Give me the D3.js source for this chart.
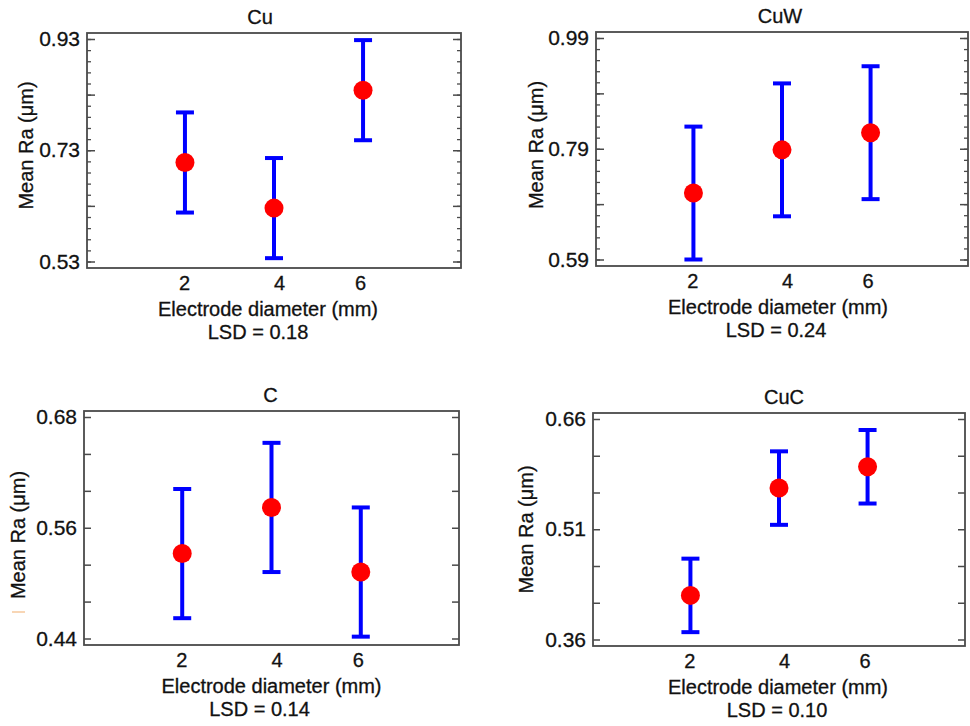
<!DOCTYPE html>
<html>
<head>
<meta charset="utf-8">
<script src="https://cdn.jsdelivr.net/npm/d3@7"></script>
<style>
  html, body { margin: 0; padding: 0; background: #fff; }
  svg text { font-family: "Liberation Sans", Arial, sans-serif; fill: #111; stroke: #111; stroke-width: 0.3px; }
</style>
</head>
<body>
<svg id="chart" width="970" height="726"></svg>
<script>
// Electrode diameter levels (mm)
const diameters = [2, 4, 6];

// Mean Ra (µm) per electrode material, with the LSD interval width
const cuMeans  = [0.708, 0.626, 0.838];
const cuwMeans = [0.710, 0.788, 0.819];
const cMeans   = [0.532, 0.582, 0.512];
const cucMeans = [0.420, 0.566, 0.595];
const lsdValues = [0.18, 0.24, 0.14, 0.10];
const titles = ["Cu", "CuW", "C", "CuC"];

// Y-axis ticks: labelled, major and minor
const cuLabels  = [0.53, 0.73, 0.93];
const cuMajor   = [0.53, 0.63, 0.73, 0.83, 0.93];
const cuwLabels = [0.59, 0.79, 0.99];
const cuwMajor  = [0.59, 0.69, 0.79, 0.89, 0.99];
const cLabels   = [0.44, 0.56, 0.68];
const cMajor    = [0.44, 0.48, 0.52, 0.56, 0.60, 0.64, 0.68];
const cucLabels = [0.36, 0.51, 0.66];
const cucMajor  = [0.36, 0.41, 0.46, 0.51, 0.56, 0.61, 0.66];

const xTitle = "Electrode diameter (mm)";
const yTitle = "Mean Ra (\u03BCm)";

// Panel geometry (plot frame) and text placement
const layout = [
  { l: 87,  r: 461, t: 33,  b: 268, minorStep: 0.02, majorLen: 8, titleDx: -14, xlabDx: -6,  lsdDx: -16, ylabX: 54, ylabDy: -5 },
  { l: 596, r: 968, t: 32,  b: 266, minorStep: 0.02, majorLen: 8, titleDx: -2,  xlabDx: -4,  lsdDx: -6,  ylabX: 53, ylabDy: -4 },
  { l: 84,  r: 459, t: 411, b: 645, minorStep: 0,    majorLen: 7, titleDx: -1,  xlabDx: 0,   lsdDx: -12, ylabX: 59, ylabDy: 7 },
  { l: 593, r: 965, t: 413, b: 646, minorStep: 0,    majorLen: 7, titleDx: 5,   xlabDx: -1,  lsdDx: -2,  ylabX: 60, ylabDy: 0 }
];
const xTickShift = [-1, 5, -3];

const panels = [
  { means: cuMeans,  labels: cuLabels,  major: cuMajor },
  { means: cuwMeans, labels: cuwLabels, major: cuwMajor },
  { means: cMeans,   labels: cLabels,   major: cMajor },
  { means: cucMeans, labels: cucLabels, major: cucMajor }
];

const svg = d3.select("#chart");
const fmt = d3.format(".2f");
const frameColor = "#4a4a4a";

panels.forEach((p, i) => {
  const L = layout[i];
  const lsd = lsdValues[i];
  const g = svg.append("g");

  const x = d3.scaleLinear().domain([-0.2, 8.2]).range([L.l, L.r]);
  const yMin = d3.min(p.major), yMax = d3.max(p.major);
  const y = d3.scaleLinear().domain([yMin, yMax]).range([L.b - 6.5, L.t + 6]);

  // minor ticks (left and right, inward)
  if (L.minorStep > 0) {
    const minor = d3.range(Math.round((yMax - yMin) / L.minorStep) + 1)
      .map(k => +(yMin + k * L.minorStep).toFixed(3));
    const ml = g.append("g").attr("transform", `translate(${L.l},0)`)
      .call(d3.axisLeft(y).tickValues(minor).tickSize(-4).tickFormat(""));
    const mr = g.append("g").attr("transform", `translate(${L.r},0)`)
      .call(d3.axisRight(y).tickValues(minor).tickSize(-4).tickFormat(""));
    [ml, mr].forEach(a => {
      a.select(".domain").remove();
      a.selectAll("line").attr("stroke", frameColor).attr("stroke-width", 1.3);
    });
  }

  // major ticks with labels on the left
  const al = g.append("g").attr("transform", `translate(${L.l},0)`)
    .call(d3.axisLeft(y).tickValues(p.major).tickSize(-L.majorLen).tickPadding(7)
      .tickFormat(d => p.labels.some(v => Math.abs(v - d) < 1e-9) ? fmt(d) : ""));
  const ar = g.append("g").attr("transform", `translate(${L.r},0)`)
    .call(d3.axisRight(y).tickValues(p.major).tickSize(-L.majorLen).tickFormat(""));
  [al, ar].forEach(a => {
    a.select(".domain").remove();
    a.selectAll("line").attr("stroke", frameColor).attr("stroke-width", 1.5);
  });
  al.selectAll("text").attr("font-size", 21).attr("fill", "#111")
    .attr("font-family", "'Liberation Sans', Arial, sans-serif");

  // bottom axis labels (no tick marks)
  const ab = g.append("g").attr("transform", `translate(0,${L.b})`)
    .call(d3.axisBottom(x).tickValues(diameters).tickSize(0).tickPadding(8).tickFormat(d3.format("d")));
  ab.select(".domain").remove();
  ab.selectAll("text").attr("font-size", 20).attr("fill", "#111")
    .attr("font-family", "'Liberation Sans', Arial, sans-serif")
    .attr("dx", (d, k) => xTickShift[k]);

  // plot frame
  g.append("rect")
    .attr("x", L.l).attr("y", L.t)
    .attr("width", L.r - L.l).attr("height", L.b - L.t)
    .attr("fill", "none").attr("stroke", frameColor).attr("stroke-width", 1.8);

  // LSD intervals
  const capHalf = 9;
  const bars = g.append("g").attr("stroke", "#0000ff").attr("stroke-width", 4).attr("fill", "none");
  p.means.forEach((m, k) => {
    const cx = x(diameters[k]);
    const hi = y(m + lsd / 2), lo = y(m - lsd / 2);
    bars.append("line").attr("x1", cx).attr("x2", cx).attr("y1", hi).attr("y2", lo);
    bars.append("line").attr("x1", cx - capHalf).attr("x2", cx + capHalf).attr("y1", hi).attr("y2", hi);
    bars.append("line").attr("x1", cx - capHalf).attr("x2", cx + capHalf).attr("y1", lo).attr("y2", lo);
  });

  // means
  g.selectAll("circle.mean").data(p.means).join("circle")
    .attr("class", "mean")
    .attr("cx", (d, k) => x(diameters[k]))
    .attr("cy", d => y(d))
    .attr("r", 9.5)
    .attr("fill", "#ff0000");

  const cxMid = (L.l + L.r) / 2;
  // title
  g.append("text").attr("x", cxMid + L.titleDx).attr("y", L.t - 9)
    .attr("text-anchor", "middle").attr("font-size", 20).text(titles[i]);
  // x axis title and LSD note
  g.append("text").attr("x", cxMid + L.xlabDx).attr("y", L.b + 48)
    .attr("text-anchor", "middle").attr("font-size", 20).text(xTitle);
  g.append("text").attr("x", cxMid + L.lsdDx).attr("y", L.b + 71)
    .attr("text-anchor", "middle").attr("font-size", 20).text("LSD = " + fmt(lsd));
  // y axis title
  const ycMid = (L.t + L.b) / 2 + L.ylabDy;
  g.append("text")
    .attr("transform", `translate(${L.l - L.ylabX},${ycMid}) rotate(-90)`)
    .attr("text-anchor", "middle").attr("font-size", 20).text(yTitle);
});

// small stray mark left of the third panel's axis title
svg.append("line").attr("x1", 12).attr("x2", 25).attr("y1", 612).attr("y2", 612)
  .attr("stroke", "#f6c89c").attr("stroke-width", 1.5);
</script>
</body>
</html>
